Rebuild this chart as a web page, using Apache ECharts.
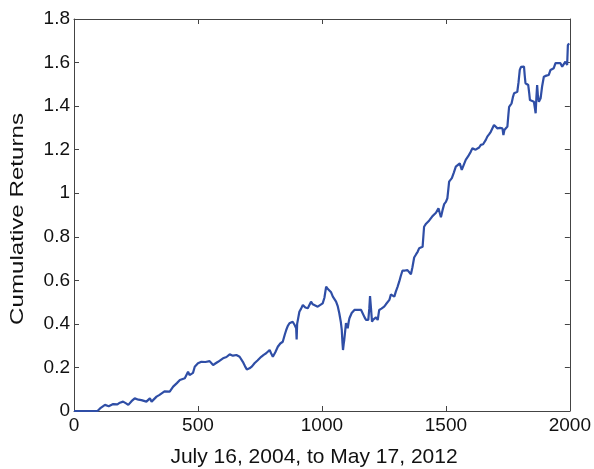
<!DOCTYPE html>
<html><head><meta charset="utf-8">
<script src="https://cdn.jsdelivr.net/npm/echarts@6/dist/echarts.min.js"></script>
<style>html,body{margin:0;padding:0;background:#fff}#c{width:594px;height:469px}</style>
</head><body><div id="c"></div>
<script>
var xTicks = [0, 500, 1000, 1500, 2000];
var yTicks = [0, 0.2, 0.4, 0.6, 0.8, 1, 1.2, 1.4, 1.6, 1.8];
var xLabel = 'July 16, 2004, to May 17, 2012';
var yLabel = 'Cumulative Returns';
var days = [0,95,105,125,140,158,175,185,198,210,219,232,245,260,272,292,306,313,333,345,353,365,373,386,400,415,427,447,460,466,472,480,487,494,500,514,530,547,555,561,570,581,601,615,628,641,655,668,675,681,690,697,708,718,728,740,755,765,775,789,795,802,812,822,832,842,850,856,862,869,882,890,896,898,900,909,916,923,933,943,950,956,963,970,983,990,1003,1010,1017,1024,1030,1037,1044,1050,1057,1064,1070,1076,1080,1083,1085,1088,1090,1094,1097,1101,1104,1108,1111,1120,1131,1145,1158,1165,1172,1178,1187,1191,1194,1198,1202,1207,1211,1218,1225,1231,1240,1251,1258,1265,1272,1278,1285,1292,1298,1305,1312,1318,1325,1335,1345,1352,1359,1365,1372,1380,1386,1392,1400,1406,1409,1412,1420,1426,1433,1439,1446,1453,1460,1466,1470,1475,1480,1486,1493,1500,1506,1510,1513,1518,1524,1532,1540,1548,1556,1564,1572,1580,1590,1600,1607,1614,1620,1627,1634,1641,1650,1661,1667,1674,1681,1688,1694,1700,1708,1718,1728,1732,1736,1741,1748,1752,1755,1765,1770,1775,1788,1793,1798,1803,1808,1815,1818,1821,1826,1832,1836,1839,1847,1855,1859,1862,1865,1868,1871,1875,1882,1888,1895,1905,1915,1922,1928,1935,1942,1950,1962,1969,1975,1982,1989,1992,1997];
var returns = [0,0,0.012,0.028,0.022,0.032,0.03,0.038,0.043,0.035,0.028,0.045,0.058,0.052,0.05,0.043,0.058,0.043,0.066,0.074,0.081,0.09,0.096,0.089,0.112,0.128,0.142,0.15,0.18,0.165,0.157,0.175,0.203,0.211,0.219,0.226,0.225,0.229,0.22,0.211,0.218,0.226,0.242,0.248,0.26,0.254,0.257,0.249,0.24,0.226,0.205,0.191,0.196,0.205,0.219,0.232,0.249,0.258,0.265,0.28,0.265,0.249,0.27,0.295,0.31,0.318,0.35,0.372,0.39,0.403,0.41,0.395,0.38,0.329,0.4,0.456,0.47,0.487,0.475,0.472,0.479,0.502,0.49,0.482,0.479,0.482,0.494,0.52,0.571,0.56,0.556,0.545,0.525,0.53,0.502,0.48,0.449,0.41,0.372,0.31,0.28,0.31,0.326,0.37,0.403,0.39,0.38,0.41,0.426,0.45,0.464,0.465,0.464,0.455,0.43,0.418,0.418,0.47,0.528,0.47,0.41,0.42,0.426,0.43,0.418,0.464,0.47,0.479,0.49,0.494,0.51,0.535,0.53,0.525,0.548,0.57,0.595,0.62,0.645,0.645,0.647,0.64,0.628,0.66,0.705,0.72,0.731,0.747,0.755,0.754,0.8,0.846,0.86,0.869,0.875,0.877,0.895,0.9,0.91,0.915,0.931,0.91,0.89,0.92,0.95,0.96,0.977,1.02,1.053,1.06,1.069,1.095,1.122,1.13,1.137,1.107,1.13,1.153,1.17,1.19,1.206,1.206,1.2,1.199,1.21,1.222,1.225,1.245,1.26,1.27,1.282,1.29,1.313,1.305,1.298,1.3,1.298,1.267,1.29,1.298,1.306,1.36,1.397,1.413,1.44,1.459,1.466,1.51,1.566,1.58,1.589,1.581,1.54,1.505,1.5,1.497,1.46,1.428,1.425,1.42,1.39,1.367,1.44,1.497,1.45,1.42,1.436,1.49,1.535,1.54,1.543,1.566,1.57,1.574,1.597,1.596,1.597,1.581,1.59,1.604,1.589,1.68,1.688];

var pts = days.map(function(d, i){ return [d, returns[i]]; });
var font = 'Liberation Sans, Arial, Helvetica, sans-serif';
var axisColor = '#444';
var txtColor = '#111';
var chart = echarts.init(document.getElementById('c'), null, {renderer: 'canvas'});
function fmtY(v){ return String(+v.toFixed(1)); }
function fmtX(v){ return String(Math.round(v)); }
function boxAxis(pos, isX) {
  var a = {
    type: 'value', position: pos,
    axisLine: {show: true, onZero: false, lineStyle: {color: axisColor, width: 1}},
    axisTick: {show: true, inside: true, length: 5, lineStyle: {color: axisColor}},
    axisLabel: {show: false}, splitLine: {show: false}
  };
  if (isX) { a.min = xTicks[0]; a.max = xTicks[xTicks.length-1]; a.interval = xTicks[1]-xTicks[0]; }
  else { a.min = yTicks[0]; a.max = yTicks[yTicks.length-1]; a.interval = 0.2; }
  return a;
}
var xb = boxAxis('bottom', true);
xb.axisLabel = {show: true, fontFamily: font, fontSize: 19, color: txtColor, margin: 5, formatter: fmtX};
var yl = boxAxis('left', false);
yl.axisLabel = {show: true, fontFamily: font, fontSize: 19, color: txtColor, margin: 4, formatter: fmtY};
chart.setOption({
  animation: false,
  backgroundColor: '#fff',
  grid: {left: 74, right: 23, top: 19, bottom: 58, containLabel: false},
  xAxis: [xb, boxAxis('top', true)],
  yAxis: [yl, boxAxis('right', false)],
  graphic: [{
    type: 'text', left: null, x: 314, y: 457,
    style: {text: xLabel, fontFamily: font, fontSize: 21, fill: txtColor, align: 'center', verticalAlign: 'middle'}
  }, {
    type: 'text', x: 18, y: 219, rotation: Math.PI / 2, scaleX: 1.27, scaleY: 1,
    style: {text: yLabel, fontFamily: font, fontSize: 19, fill: txtColor, align: 'center', verticalAlign: 'middle'}
  }],
  series: [{
    type: 'line', data: pts, xAxisIndex: 0, yAxisIndex: 0,
    showSymbol: false, symbol: 'none',
    lineStyle: {color: '#2f4ea6', width: 2.2},
    clip: true
  }]
});
</script></body></html>
